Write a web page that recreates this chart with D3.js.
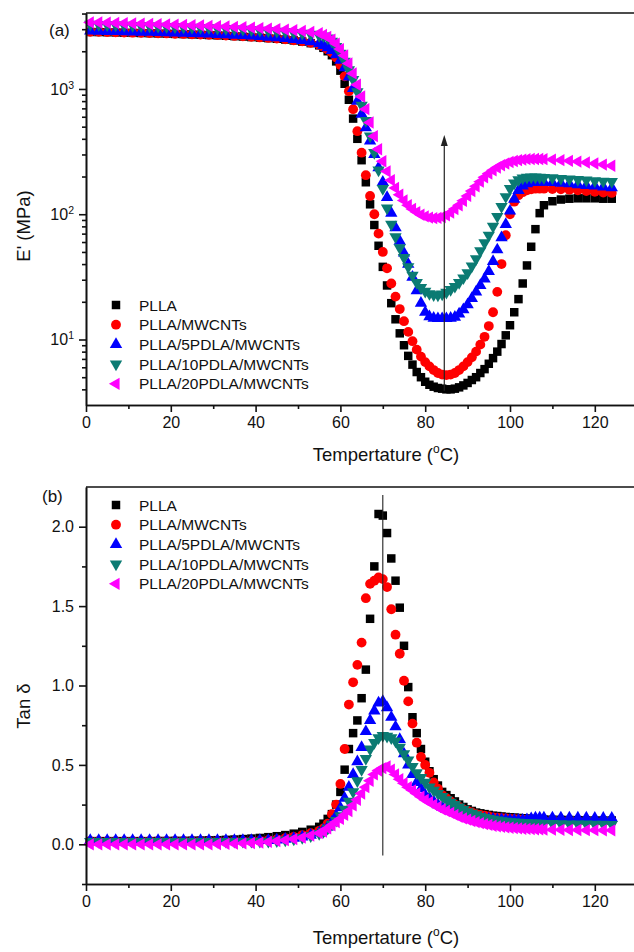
<!DOCTYPE html>
<html>
<head>
<meta charset="utf-8">
<script src="https://cdn.jsdelivr.net/npm/d3@7"></script>
<style>
  body { margin: 0; background: #fff; }
  svg { display: block; font-family: Arial, "Liberation Sans", sans-serif; }
</style>
</head>
<body>
<div class="center"></div>
<script>
// shared temperature grid (°C)
const temps = [1,3,5,7,9,11,13,15,17,19,21,23,25,27,29,31,33,35,37,39,41,43,45,47,49,51,53,55,
  56,57,58,59,60,61,62,63,64,65,66,67,68,69,70,71,72,73,74,75,76,77,78,79,80,
  81,82,83,84,85,86,87,88,89,90,91,92,93,94,95,96,97,98,99,100,101,102,103,104,105,106,107,108,
  110,112,114,116,118,120,122,124];

const seriesNames = ["PLLA", "PLLA/MWCNTs", "PLLA/5PDLA/MWCNTs", "PLLA/10PDLA/MWCNTs", "PLLA/20PDLA/MWCNTs"];

// (a) storage modulus E' (MPa)
const ePLLA = [2850,2845,2835,2825,2815,2805,2795,2785,2775,2765,2750,2740,2725,2710,2695,2680,2660,2640,2620,2595,2570,2545,2515,2480,2440,2390,2320,2230,
  2130,2000,1860,1660,1400,1100,820,580,400,270,180,120,82,56,38,27,19.5,14.5,11.2,9,7.4,6.3,5.5,5.0,4.6,
  4.35,4.2,4.1,4.05,4.0,4.0,4.05,4.15,4.3,4.5,4.75,5.0,5.4,5.8,6.4,7.1,8,9.2,10.8,13,16.5,21,28,39,55,76,102,118,
  127,131,133,134,134,134,133,133];
const eMWCNT = [2860,2855,2845,2835,2825,2815,2805,2795,2785,2775,2760,2750,2735,2720,2705,2690,2670,2650,2630,2605,2580,2555,2525,2490,2450,2400,2335,2250,
  2170,2060,1950,1780,1550,1260,960,690,460,310,205,140,100,70,50,37,28,22,17.5,14,11.5,9.7,8.3,7.3,6.6,
  6.1,5.7,5.4,5.25,5.2,5.25,5.4,5.7,6.1,6.6,7.2,8,9.1,10.5,12.8,16.5,24,40,68,100,126,142,150,155,158,160,160,160,
  159,158,157,155,153,151,149,148];
const e5PDLA = [2900,2895,2885,2875,2865,2855,2845,2835,2825,2815,2800,2790,2775,2760,2745,2730,2710,2690,2670,2645,2620,2595,2565,2530,2490,2445,2385,2310,
  2230,2140,2030,1880,1700,1480,1250,1010,800,630,490,385,300,235,180,136,102,78,61,49,40,31.5,24.5,19.5,16.5,
  15.2,14.8,14.7,14.7,14.7,14.8,15.1,16,17.3,19,21.3,24,27,30.5,35,42,52,65,83,106,132,155,168,175,179,180,180,180,
  179,177,175,172,170,168,165,163];
const e10PDLA = [3280,3270,3255,3240,3225,3210,3195,3180,3165,3150,3135,3120,3105,3090,3070,3050,3030,3010,2990,2965,2940,2915,2885,2855,2820,2780,2730,2670,
  2650,2550,2400,2180,1930,1660,1420,1190,950,740,560,420,310,225,160,112,83,66,54,45,38,32.5,28.5,26,24.2,
  23.2,22.7,22.6,23,23.8,25,26.5,28.5,31,34,38.5,44,51,59,68,80,96,115,138,160,177,188,194,197,198,198,197,196,
  195,193,191,189,187,185,183,182];
const e20PDLA = [3400,3390,3375,3360,3345,3330,3315,3300,3285,3270,3255,3240,3225,3210,3190,3170,3150,3130,3110,3085,3060,3035,3005,2975,2940,2900,2850,2790,
  2700,2600,2470,2300,2080,1850,1600,1330,1080,870,690,540,420,330,265,220,187,162,143,129,118,110,104,99,96,
  94,93,93.5,95,98,103,110,118,128,140,153,167,182,197,211,224,236,246,254,261,266,270,273,275,276,276,276,275,
  273,270,267,263,259,254,249,244];

// (b) loss factor tan delta
const tPLLA = [0.02,0.02,0.02,0.02,0.02,0.02,0.02,0.02,0.021,0.021,0.022,0.022,0.023,0.024,0.025,0.026,0.028,0.03,0.033,0.036,0.04,0.045,0.051,0.058,0.067,0.078,0.092,0.11,
  0.13,0.16,0.19,0.25,0.33,0.47,0.6,0.7,0.78,0.92,1.1,1.42,1.75,2.08,2.07,1.96,1.8,1.66,1.49,1.25,0.99,0.8,0.7,0.6,0.52,
  0.46,0.41,0.37,0.33,0.31,0.29,0.27,0.25,0.235,0.22,0.21,0.2,0.195,0.19,0.185,0.18,0.178,0.175,0.172,0.17,0.168,0.166,0.164,0.162,0.16,0.158,0.157,0.156,
  0.155,0.154,0.153,0.152,0.151,0.15,0.15,0.15];
const tMWCNT = [0.02,0.02,0.02,0.02,0.02,0.02,0.02,0.02,0.02,0.02,0.02,0.02,0.02,0.02,0.02,0.02,0.02,0.02,0.02,0.02,0.022,0.026,0.031,0.038,0.047,0.058,0.07,0.085,
  0.1,0.13,0.19,0.25,0.38,0.6,0.88,1.02,1.13,1.27,1.55,1.64,1.66,1.68,1.67,1.62,1.48,1.32,1.2,1.03,0.9,0.76,0.64,0.55,0.5,
  0.45,0.39,0.35,0.31,0.29,0.27,0.25,0.235,0.22,0.21,0.2,0.19,0.185,0.18,0.175,0.17,0.168,0.165,0.163,0.16,0.158,0.156,0.155,0.154,0.153,0.152,0.151,0.15,
  0.15,0.149,0.148,0.147,0.146,0.145,0.145,0.145];
const t5PDLA = [0.025,0.025,0.025,0.025,0.025,0.025,0.025,0.025,0.025,0.025,0.025,0.025,0.025,0.025,0.025,0.025,0.025,0.025,0.025,0.025,0.025,0.025,0.028,0.032,0.038,0.047,0.058,0.072,
  0.09,0.11,0.14,0.18,0.23,0.29,0.36,0.44,0.52,0.61,0.71,0.78,0.84,0.89,0.9,0.86,0.8,0.74,0.66,0.57,0.5,0.44,0.39,0.35,0.31,
  0.29,0.27,0.25,0.235,0.22,0.21,0.2,0.19,0.185,0.18,0.175,0.17,0.165,0.162,0.16,0.158,0.156,0.155,0.154,0.153,0.152,0.152,0.153,0.156,0.162,0.166,0.167,0.167,
  0.167,0.167,0.166,0.166,0.166,0.165,0.165,0.165];
const t10PDLA = [0.018,0.018,0.018,0.018,0.018,0.018,0.018,0.018,0.018,0.018,0.018,0.018,0.018,0.018,0.018,0.018,0.018,0.018,0.018,0.018,0.018,0.018,0.022,0.027,0.033,0.042,0.053,0.067,
  0.08,0.1,0.125,0.15,0.18,0.22,0.27,0.33,0.4,0.47,0.54,0.6,0.64,0.67,0.685,0.68,0.67,0.65,0.61,0.57,0.53,0.49,0.45,0.42,0.39,
  0.36,0.34,0.32,0.3,0.28,0.265,0.25,0.235,0.22,0.205,0.195,0.185,0.175,0.168,0.162,0.157,0.152,0.148,0.145,0.142,0.14,0.138,0.136,0.135,0.134,0.133,0.132,0.131,
  0.13,0.129,0.128,0.127,0.127,0.126,0.126,0.125];
const t20PDLA = [0,0,0,0,0,0,0,0,0,0,0,0,0,0,0,0.002,0.003,0.004,0.006,0.008,0.011,0.015,0.02,0.026,0.033,0.042,0.055,0.07,
  0.08,0.1,0.12,0.14,0.16,0.185,0.21,0.245,0.28,0.32,0.36,0.4,0.44,0.465,0.48,0.49,0.47,0.44,0.41,0.385,0.36,0.34,0.32,0.3,0.28,
  0.265,0.25,0.235,0.22,0.21,0.198,0.185,0.173,0.163,0.155,0.147,0.14,0.133,0.127,0.122,0.117,0.113,0.11,0.107,0.104,0.102,0.1,0.098,0.097,0.096,0.095,0.094,0.093,
  0.092,0.091,0.09,0.09,0.089,0.089,0.088,0.088];

const xTicks = [0, 20, 40, 60, 80, 100, 120];
const xMinor = [10, 30, 50, 70, 90, 110, 130];
const eTicks = [10, 100, 1000];
const tanTicks = [0, 0.5, 1.0, 1.5, 2.0];
const tanMinor = [-0.25, 0.25, 0.75, 1.25, 1.75];

const colors = ["#000000", "#ff0000", "#0000ff", "#0b7b73", "#ff00ff"];
const symbols = [d3.symbolSquare, d3.symbolCircle, d3.symbolTriangle, d3.symbolTriangle, d3.symbolTriangle];
const rotations = [0, 0, 0, 180, -90];
const sizes = [72, 76, 66, 66, 66];

const W = 634, H = 952;
const svg = d3.select(".center").append("svg")
    .attr("width", W)
    .attr("height", H);

svg.append("rect").attr("width", W).attr("height", H).attr("fill", "#fff");

const xScale = d3.scaleLinear().domain([0, 130]).range([86, 637.2]);

function drawPanel(o) {
    const g = svg.append("g");
    const y = o.y;
    const [yBottom, yTop] = y.range();

    // series
    o.series.forEach((vals, s) => {
        const sym = d3.symbol().type(symbols[s]).size(sizes[s]);
        g.append("g").selectAll("path")
            .data(temps.map((t, i) => [t, vals[i]]))
            .enter()
            .append("path")
            .attr("d", sym)
            .attr("fill", colors[s])
            .attr("transform", d => `translate(${xScale(d[0])},${y(d[1])}) rotate(${rotations[s]})`);
    });

    // axes
    g.append("g")
        .attr("transform", `translate(0,${yBottom})`)
        .call(d3.axisBottom(xScale).tickValues(xTicks).tickSize(7).tickSizeOuter(0).tickPadding(5));
    g.append("g")
        .attr("transform", `translate(0,${yBottom})`)
        .call(d3.axisBottom(xScale).tickValues(xMinor).tickSize(4).tickSizeOuter(0).tickFormat(""));

    const yAxis = g.append("g")
        .attr("transform", `translate(${xScale(0)},0)`)
        .call(d3.axisLeft(y).tickValues(o.yTicks).tickSize(7).tickSizeOuter(0).tickPadding(5).tickFormat(o.format));
    g.append("g")
        .attr("transform", `translate(${xScale(0)},0)`)
        .call(d3.axisLeft(y).tickValues(o.yMinor).tickSize(4).tickSizeOuter(0).tickFormat(""));

    g.selectAll(".domain, .tick line").attr("stroke", "#111").attr("stroke-width", 1.6);
    g.selectAll(".tick text").attr("font-size", 16).attr("fill", "#111")
        .attr("font-family", "Arial, 'Liberation Sans', sans-serif");

    if (o.logLabels) {
        yAxis.selectAll(".tick text").each(function(d) {
            const t = d3.select(this).text(null);
            t.append("tspan").text("10");
            t.append("tspan").attr("font-size", 10.5).attr("dy", -6).text(Math.round(Math.log10(d)));
        });
    }

    // top frame line
    g.append("line")
        .attr("x1", xScale(0)).attr("x2", W)
        .attr("y1", yTop).attr("y2", yTop)
        .attr("stroke", "#111").attr("stroke-width", 1.6);

    // panel tag
    g.append("text").attr("x", o.tagX).attr("y", o.tagY)
        .attr("font-size", 17).attr("fill", "#111").text(o.tag);

    // legend
    seriesNames.forEach((name, s) => {
        const cy = o.legendY + s * 19.7;
        g.append("path")
            .attr("d", d3.symbol().type(symbols[s]).size(sizes[s])())
            .attr("fill", colors[s])
            .attr("transform", `translate(116,${cy}) rotate(${rotations[s]})`);
        g.append("text").attr("x", 139).attr("y", cy + 5.5)
            .attr("font-size", 15.5).attr("fill", "#111").text(name);
    });

    // x title
    const xt = g.append("text")
        .attr("x", 386).attr("y", o.xTitleY)
        .attr("text-anchor", "middle")
        .attr("font-size", 18.5).attr("fill", "#111");
    xt.append("tspan").text("Tempertature (");
    xt.append("tspan").attr("font-size", 12).attr("dy", -8).text("o");
    xt.append("tspan").attr("dy", 8).text("C)");

    // y title
    g.append("text")
        .attr("transform", `translate(30,${o.yTitleY}) rotate(-90)`)
        .attr("text-anchor", "middle")
        .attr("font-size", 18.5).attr("fill", "#111")
        .text(o.yTitle);

    return g;
}

// (a) storage modulus
const yE = d3.scaleLog().domain([3, 4040]).range([405, 13]);
const gA = drawPanel({
    y: yE,
    series: [ePLLA, eMWCNT, e5PDLA, e10PDLA, e20PDLA],
    yTicks: eTicks,
    yMinor: [4,5,6,7,8,9,20,30,40,50,60,70,80,90,200,300,400,500,600,700,800,900,2000,3000,4000],
    format: d => d,
    logLabels: true,
    tag: "(a)", tagX: 49, tagY: 36,
    legendY: 305,
    xTitleY: 461,
    yTitle: "E' (MPa)", yTitleY: 226
});

// arrow at 84.5 °C
const ax = xScale(84.5), ay0 = yE(3.9), ay1 = yE(430);
gA.append("line").attr("x1", ax).attr("x2", ax).attr("y1", ay0).attr("y2", ay1 + 8)
    .attr("stroke", "#222").attr("stroke-width", 1.2);
gA.append("path")
    .attr("d", `M${ax},${ay1} L${ax - 3.5},${ay1 + 11} L${ax + 3.5},${ay1 + 11} Z`)
    .attr("fill", "#222");

// (b) tan delta
const yT = d3.scaleLinear().domain([-0.25, 2.25]).range([884, 487]);
const gB = drawPanel({
    y: yT,
    series: [tPLLA, tMWCNT, t5PDLA, t10PDLA, t20PDLA],
    yTicks: tanTicks,
    yMinor: tanMinor,
    format: d3.format(".1f"),
    logLabels: false,
    tag: "(b)", tagX: 42, tagY: 502,
    legendY: 505,
    xTitleY: 944,
    yTitle: "Tan \u03b4", yTitleY: 706
});

gB.append("line")
    .attr("x1", xScale(70)).attr("x2", xScale(70))
    .attr("y1", yT(2.2)).attr("y2", yT(-0.07))
    .attr("stroke", "#222").attr("stroke-width", 1.1);
</script>
</body>
</html>
